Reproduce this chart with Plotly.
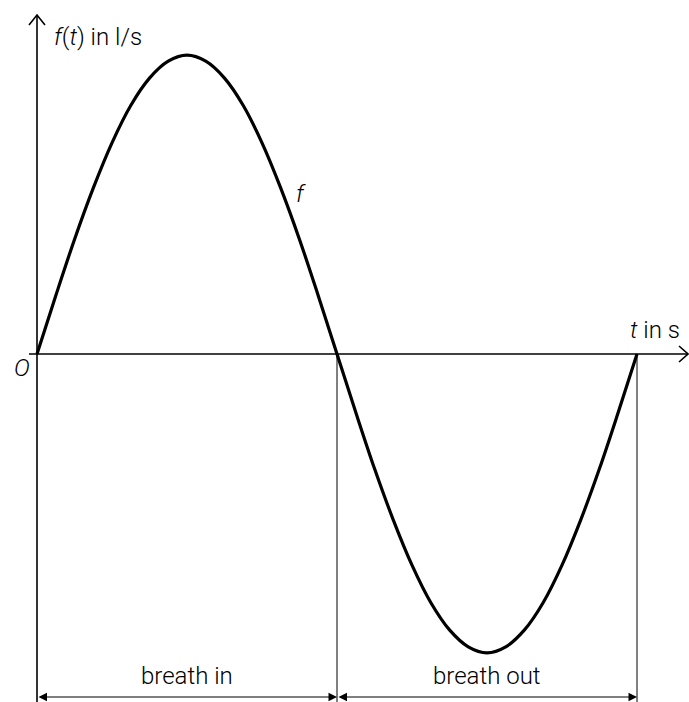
import plotly.graph_objects as go

# flow rate during one breath
t = [0, 0.125, 0.25, 0.375, 0.5, 0.625, 0.75, 0.875, 1.0,
     1.125, 1.25, 1.375, 1.5, 1.625, 1.75, 1.875, 2.0,
     2.125, 2.25, 2.375, 2.5, 2.625, 2.75, 2.875, 3.0,
     3.125, 3.25, 3.375, 3.5, 3.625, 3.75, 3.875, 4.0]
f = [0, 0.117, 0.230, 0.333, 0.424, 0.499, 0.554, 0.588, 0.600,
     0.588, 0.554, 0.499, 0.424, 0.333, 0.230, 0.117, 0,
     -0.117, -0.230, -0.333, -0.424, -0.499, -0.554, -0.588, -0.600,
     -0.588, -0.554, -0.499, -0.424, -0.333, -0.230, -0.117, 0]

phase_labels = ["breath in", "breath out"]
phase_bounds = [0, 2, 4]

W, H = 689, 702
# pixel placement of the origin and scale
OX, OY = 37, 354
SX, SY = 150, 498


def X(px):
    return (px - OX) / SX


def Y(py):
    return (OY - py) / SY


FONT = dict(family="Roboto", size=24, color="#000000", weight=300)
BLACK = "#000000"

fig = go.Figure()
fig.add_trace(go.Scatter(x=t, y=f, mode="lines", line=dict(color=BLACK, width=3.2, shape="spline"),
                         hoverinfo="skip", showlegend=False))

shapes = []
# axes
shapes.append(dict(type="line", x0=X(29), y0=0, x1=X(688), y1=0, line=dict(color=BLACK, width=1.6)))
shapes.append(dict(type="line", x0=0, y0=Y(H), x1=0, y1=Y(15), line=dict(color=BLACK, width=1.6)))
# open arrow tips
shapes.append(dict(type="path", path="M %f %f L %f %f L %f %f" % (X(29), Y(25), X(37), Y(15), X(45), Y(25)),
                   line=dict(color=BLACK, width=1.6)))
shapes.append(dict(type="path", path="M %f %f L %f %f L %f %f" % (X(679), Y(346), X(688), Y(354), X(679), Y(362)),
                   line=dict(color=BLACK, width=1.6)))
# phase separators
for b in phase_bounds[1:]:
    shapes.append(dict(type="line", x0=b, y0=0, x1=b, y1=Y(H), line=dict(color=BLACK, width=1)))

annotations = []
for i, lab in enumerate(phase_labels):
    a, b = phase_bounds[i], phase_bounds[i + 1]
    annotations.append(dict(x=b, y=Y(697), ax=a, ay=Y(697), xref="x", yref="y", axref="x", ayref="y",
                            text="", showarrow=True, arrowside="end+start", arrowhead=2,
                            arrowsize=1.7, arrowwidth=1, arrowcolor=BLACK, standoff=0, startstandoff=0))
    annotations.append(dict(x=(a + b) / 2, y=Y(676), xref="x", yref="y", text=lab, showarrow=False,
                            font=FONT))

annotations.append(dict(x=X(52), y=Y(37), xref="x", yref="y", text="<i>f</i>(<i>t</i>) in l/s",
                        showarrow=False, xanchor="left", font=FONT))
annotations.append(dict(x=X(682), y=Y(330), xref="x", yref="y", text="<i>t</i> in s",
                        showarrow=False, xanchor="right", font=FONT))
annotations.append(dict(x=X(22), y=Y(368), xref="x", yref="y", text="<i>O</i>",
                        showarrow=False, font=FONT))
annotations.append(dict(x=X(301), y=Y(194), xref="x", yref="y", text="<i>f</i>",
                        showarrow=False, font=FONT))

fig.update_layout(width=W, height=H, margin=dict(l=0, r=0, t=0, b=0),
                  paper_bgcolor="white", plot_bgcolor="white",
                  shapes=shapes, annotations=annotations)
fig.update_xaxes(range=[X(0), X(W)], visible=False, fixedrange=True)
fig.update_yaxes(range=[Y(H), Y(0)], visible=False, fixedrange=True)

# drop the browser's default page margin so the figure sits at the window corner
fig.write_html("out.html", config={"displayModeBar": False},
               post_script="document.body.style.margin='0';")
